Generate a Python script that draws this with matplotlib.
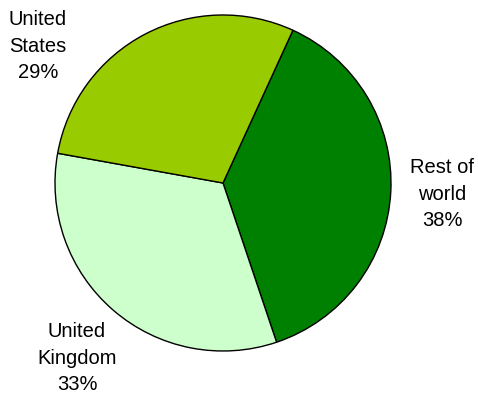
import matplotlib.pyplot as plt

regions = ["Rest of\nworld", "United\nKingdom", "United\nStates"]
shares = [38, 33, 29]
slice_colors = ["#008000", "#CCFFCC", "#99CC00"]

plt.rcParams["font.family"] = ["Liberation Sans", "DejaVu Sans"]

W, H = 478, 394
fig = plt.figure(figsize=(W / 100, H / 100), dpi=100)
# pie centre (223, 183) px, radius 168 px
cx, cy, r = 223, 183, 168
ax = fig.add_axes([(cx - r) / W, (H - cy - r) / H, 2 * r / W, 2 * r / H])
ax.pie(shares, colors=slice_colors, startangle=65.4, counterclock=False,
       wedgeprops=dict(edgecolor="black", linewidth=1.0), radius=1.0)
ax.set_xlim(-1, 1)
ax.set_ylim(-1, 1)
ax.set_aspect("equal")
ax.axis("off")

# label centres in pixels
label_px = [(442, 194), (77, 358), (38, 46)]
for name, val, (px, py) in zip(regions, shares, label_px):
    ax.text((px - cx) / r, (cy - py) / r, f"{name}\n{val}%",
            ha="center", va="center", fontsize=14.5, linespacing=1.5,
            clip_on=False)

fig.savefig("out.png", dpi=100)
